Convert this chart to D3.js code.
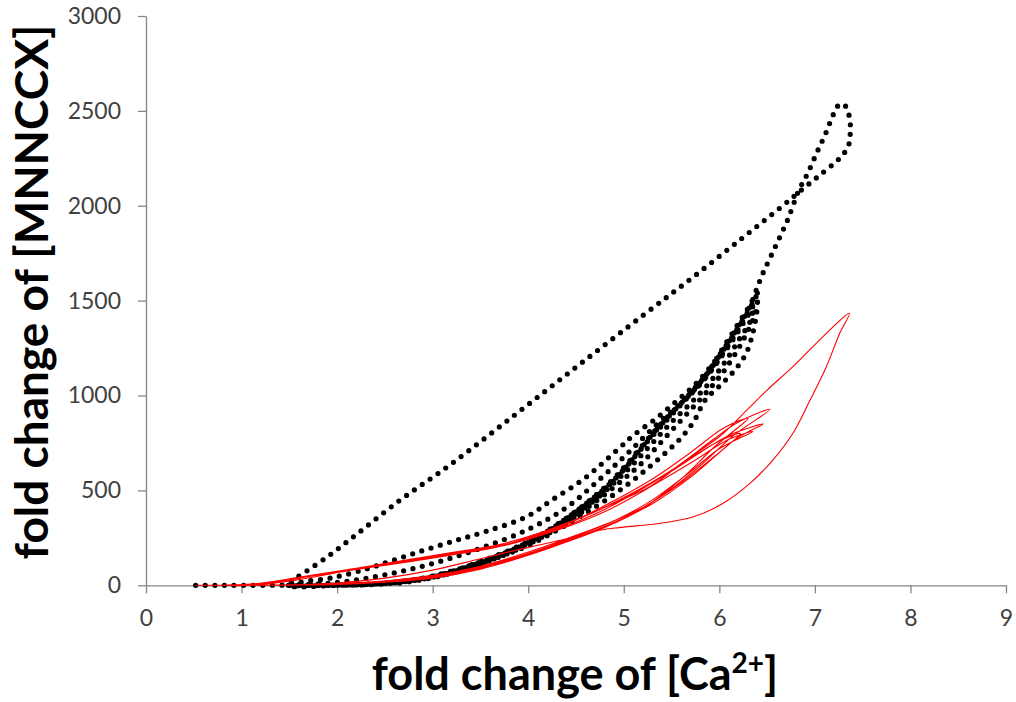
<!DOCTYPE html>
<html>
<head>
<meta charset="utf-8">
<script src="https://cdn.jsdelivr.net/npm/d3@7"></script>
<style>
  body { margin: 0; background: #fff; }
  svg text { font-family: Lato, "Open Sans", sans-serif; }
</style>
</head>
<body>
<svg id="chart" width="1016" height="702"></svg>
<script>
// Axis ticks
const xTicks = [0, 1, 2, 3, 4, 5, 6, 7, 8, 9];
const yTicks = [0, 500, 1000, 1500, 2000, 2500, 3000];

// Black trajectory (dotted): fold change of Ca2+ vs fold change of MNNCCX
const blackCa = [
  // rise along the main band
  0.52, 0.8, 1.2, 1.8, 2.3, 2.7, 3.0, 3.5, 4.0, 4.3, 4.6, 4.85, 5.05, 5.3, 5.5, 5.7, 5.87, 6.0, 6.15, 6.3, 6.4,
  // outer return branch
  6.40, 6.39, 6.35, 6.28, 6.16, 6.01, 5.85, 5.74, 5.61, 5.45, 5.27, 5.10, 4.9, 4.6, 4.3, 4.0, 3.5, 3.0, 2.5, 2.0, 1.5,
  // upper rise
  1.6, 1.95, 2.3, 2.54, 2.83, 3.2, 3.57, 3.98, 4.25, 4.59, 4.93, 5.10, 5.34, 5.55, 5.75, 5.95, 6.15, 6.3, 6.4,
  // inner return branch
  6.38, 6.25, 6.08, 5.95, 5.8, 5.6, 5.4, 5.2, 5.0, 4.7, 4.4, 4.0, 3.5, 3.0, 2.5, 2.0, 1.5,
  // second upper rise
  2.0, 2.5, 3.0, 3.5, 4.0, 4.4, 4.75, 5.05, 5.35, 5.6, 5.8, 6.0, 6.2, 6.35,
  // return along the band
  6.3, 6.15, 6.0, 5.8, 5.6, 5.4, 5.2, 5.0, 4.8, 4.5, 4.2, 3.8, 3.3, 2.8, 2.3, 1.8, 1.45,
  // another rise and return inside the band
  1.5, 2.2, 2.8, 3.3, 3.8, 4.2, 4.5, 4.75, 5.0, 5.2, 5.45, 5.65, 5.85, 6.05, 6.2, 6.35,
  6.33, 6.2, 6.05, 5.9, 5.7, 5.5, 5.3, 5.1, 4.9, 4.65, 4.35, 4.0, 3.5, 3.0, 2.5, 2.0, 1.5,
  // large excursion, peak and descent
  1.54, 1.63, 1.90, 2.16, 2.66, 3.18, 3.88, 4.54, 5.22, 5.73, 6.24, 6.66, 6.90, 7.07, 7.24, 7.31, 7.36, 7.37, 7.37, 7.35, 7.30,
  7.24, 7.19, 7.11, 7.02, 6.93, 6.83, 6.72, 6.63, 6.54, 6.45, 6.39, 6.32, 6.18, 6.02, 5.88, 5.7, 5.5, 5.3, 5.05, 4.85, 4.6, 4.3, 4.0, 3.5, 3.0, 2.6
];
const blackNcx = [
  0, 0, 0, 2, 6, 20, 45, 125, 230, 320, 430, 540, 650, 800, 910, 1010, 1115, 1220, 1340, 1460, 1540,
  1500, 1433, 1328, 1222, 1133, 1054, 975, 870, 783, 704, 625, 555, 480, 380, 290, 210, 115, 45, 10, 0, 0,
  15, 40, 85, 124, 172, 230, 286, 361, 450, 564, 713, 790, 880, 970, 1060, 1180, 1320, 1440, 1530,
  1440, 1293, 1152, 1066, 980, 870, 760, 650, 560, 440, 330, 225, 122, 48, 12, 1, 0,
  15, 55, 115, 195, 295, 410, 560, 700, 850, 960, 1060, 1190, 1340, 1470,
  1440, 1320, 1200, 1070, 960, 850, 730, 610, 510, 390, 285, 180, 90, 28, 4, 0, 0,
  0, 3, 25, 80, 170, 270, 370, 480, 610, 730, 870, 980, 1090, 1230, 1350, 1480,
  1400, 1290, 1170, 1070, 960, 860, 750, 640, 540, 430, 320, 225, 115, 40, 8, 0, 0,
  28, 58, 151, 251, 449, 634, 906, 1165, 1430, 1626, 1830, 1999, 2100, 2169, 2241, 2280, 2331, 2383, 2436, 2489, 2536,
  2526, 2478, 2378, 2280, 2177, 2079, 1932, 1832, 1735, 1637, 1560, 1470, 1350, 1225, 1120, 1015, 905, 795, 640, 530, 425, 315, 225, 120, 42, 8
];

// Red trajectory (line)
const redCa = [
  0.52, 0.8, 1.0,
  1.5, 2.0, 2.5, 3.0, 3.5, 4.0, 4.4, 4.75, 5.1, 5.45, 5.8, 6.15, 6.53,
  6.2, 5.94, 5.45, 4.75, 4.2, 3.7, 3.2, 2.7, 2.1, 1.6, 1.1, 0.7,
  1.1, 1.5, 2.0, 2.5, 3.0, 3.5, 4.0, 4.4, 4.8, 5.2, 5.6, 5.95, 6.2, 6.46,
  6.1, 5.8, 5.4, 4.8, 4.2, 3.7, 3.2, 2.7, 2.1, 1.6, 1.1, 0.7,
  1.1, 1.5, 2.0, 2.5, 3.0, 3.5, 4.0, 4.4, 4.8, 5.2, 5.6, 5.95, 6.3,
  6.05, 5.7, 5.3, 4.8, 4.3, 3.8, 3.3, 2.8, 2.2, 1.7, 1.2, 0.8,
  1.1, 1.6, 2.1, 2.6, 3.1, 3.6, 4.1, 4.5, 4.9, 5.3, 5.7, 6.0, 6.35,
  6.1, 5.75, 5.35, 4.85, 4.3, 3.75, 3.25, 2.75, 2.15, 1.65, 1.15, 0.75,
  1.1, 1.6, 2.1, 2.6, 3.1, 3.6, 4.1, 4.5, 4.9, 5.3, 5.7, 6.0, 6.22,
  6.0, 5.7, 5.3, 4.8, 4.3, 3.8, 3.3, 2.8, 2.2, 1.7, 1.2, 0.8,
  1.1, 1.6, 2.1, 2.7, 3.2, 3.7, 4.2, 4.75, 5.27, 5.52, 5.76, 6.04, 6.29, 6.50, 6.77, 7.12, 7.36,
  7.26, 7.12, 6.95, 6.77, 6.56, 6.32, 6.04, 5.73, 5.4, 5.17, 4.95, 4.75, 4.4, 4.0, 3.5, 3.0, 2.5, 2.0, 1.5, 1.0
];
const redNcx = [
  0, 0, 0,
  1, 6, 18, 42, 90, 165, 235, 300, 380, 490, 630, 790, 927,
  860, 770, 590, 400, 290, 215, 172, 128, 82, 42, 6, 0,
  0, 2, 8, 22, 50, 100, 175, 245, 320, 410, 540, 680, 780, 850,
  790, 700, 570, 410, 285, 205, 165, 122, 78, 38, 4, 0,
  0, 1, 5, 16, 38, 85, 158, 228, 305, 405, 560, 730, 880,
  830, 700, 560, 420, 300, 220, 180, 140, 90, 48, 10, 0,
  0, 2, 10, 28, 60, 110, 185, 260, 340, 450, 600, 720, 810,
  770, 660, 540, 400, 290, 210, 168, 126, 84, 44, 8, 0,
  0, 1, 7, 24, 55, 105, 180, 250, 330, 430, 570, 700, 800,
  760, 670, 540, 400, 295, 215, 175, 132, 86, 46, 8, 0,
  0, 30, 75, 120, 160, 205, 290, 400, 520, 608, 696, 800, 924, 1029, 1152, 1328, 1433,
  1328, 1152, 976, 801, 660, 537, 432, 361, 328, 315, 304, 290, 245, 200, 140, 80, 38, 12, 2, 0
];

const svg = d3.select('#chart');

const x = d3.scaleLinear().domain([0, 9]).range([146, 1006]);
const y = d3.scaleLinear().domain([0, 3000]).range([585.3, 16]);

const axisColor = '#868686';
const tickTextColor = '#404040';

// Axes
const gx = svg.append('g')
  .attr('transform', `translate(0,${y(0)})`)
  .call(d3.axisBottom(x).tickValues(xTicks).tickSize(8).tickSizeOuter(0).tickPadding(16).tickFormat(d3.format('d')));
const gy = svg.append('g')
  .attr('transform', `translate(${x(0)},0)`)
  .call(d3.axisLeft(y).tickValues(yTicks).tickSize(8).tickSizeOuter(0).tickPadding(17).tickFormat(d3.format('d')));

[gx, gy].forEach(g => {
  g.select('.domain').attr('stroke', axisColor).attr('stroke-width', 1.3);
  g.selectAll('.tick line').attr('stroke', axisColor).attr('stroke-width', 1.3);
  g.selectAll('.tick text')
    .attr('fill', tickTextColor)
    .style('font-size', '23px')
    .style('font-family', 'Lato, "Open Sans", sans-serif');
});

const pts = (xs, ys) => xs.map((v, i) => [v, ys[i]]);
const line = d3.line()
  .x(d => x(d[0]))
  .y(d => y(d[1]))
  .curve(d3.curveCatmullRom.alpha(0.5));

// Black dotted series
svg.append('path')
  .datum(pts(blackCa, blackNcx))
  .attr('d', line)
  .attr('fill', 'none')
  .attr('stroke', '#000')
  .attr('stroke-width', 5.2)
  .attr('stroke-linecap', 'round')
  .attr('stroke-dasharray', '0 9.6');

// Red line series
svg.append('path')
  .datum(pts(redCa, redNcx))
  .attr('d', line)
  .attr('fill', 'none')
  .attr('stroke', '#ff0000')
  .attr('stroke-width', 1.1)
  .attr('stroke-linejoin', 'round');

// Axis titles
const xTitle = svg.append('text')
  .attr('x', 575)
  .attr('y', 690)
  .attr('text-anchor', 'middle')
  .attr('fill', '#000')
  .style('font-size', '45px')
  .style('font-weight', 'bold');
xTitle.append('tspan').text('fold change of [Ca');
xTitle.append('tspan').attr('dy', -17).style('font-size', '28px').text('2+');
xTitle.append('tspan').attr('dy', 17).text(']');

svg.append('text')
  .attr('transform', 'translate(48,292) rotate(-90)')
  .attr('text-anchor', 'middle')
  .attr('fill', '#000')
  .style('font-size', '46px')
  .style('font-weight', 'bold')
  .text('fold change of [MNNCCX]');
</script>
</body>
</html>
